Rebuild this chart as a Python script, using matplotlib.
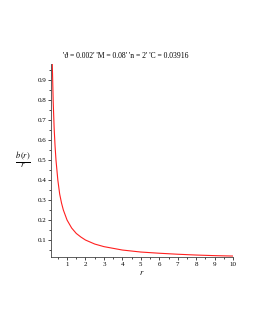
import matplotlib
matplotlib.use("Agg")
import matplotlib.pyplot as plt
from matplotlib.ticker import MultipleLocator

plt.rcParams['font.family'] = ['Liberation Serif', 'DejaVu Serif']
plt.rcParams['mathtext.fontset'] = 'stix'

# b(r)/r gelesen aus dem Bild
r = [0.2, 0.25, 0.3, 0.35, 0.4, 0.5, 0.6, 0.7, 0.8, 1.0, 1.25, 1.5, 1.75,
     2.0, 2.5, 3.0, 4.0, 5.0, 6.0, 7.0, 8.0, 9.0, 10.0]
b_durch_r = [0.98, 0.79, 0.66, 0.57, 0.50, 0.40, 0.33, 0.285, 0.25, 0.20,
             0.16, 0.133, 0.115, 0.10, 0.08, 0.067, 0.05, 0.04, 0.034,
             0.029, 0.025, 0.022, 0.02]
titel = "'\u03d1 = 0.002' 'M = 0.08' 'n = 2' 'C = 0.03916"

fig = plt.figure(figsize=(2.55, 3.3), dpi=100)
ax = fig.add_axes([0.2, 0.222, 0.714, 0.584])
ax.plot(r, b_durch_r, color='#ff2020', linewidth=0.8)

ax.set_xlim(0.13, 10)
ax.set_ylim(0.0165, 0.98)
ax.xaxis.set_major_locator(MultipleLocator(1))
ax.xaxis.set_minor_locator(MultipleLocator(0.5))
ax.yaxis.set_major_locator(MultipleLocator(0.1))
ax.yaxis.set_minor_locator(MultipleLocator(0.05))
ax.set_xticks(range(1, 11))
ax.set_yticks([0.1, 0.2, 0.3, 0.4, 0.5, 0.6, 0.7, 0.8, 0.9])
ax.set_yticklabels(['0.1', '0.2', '0.3', '0.4', '0.5', '0.6', '0.7', '0.8', '0.9'])
ax.tick_params(which='major', direction='out', length=2.5, width=0.5, labelsize=5, pad=1)
ax.tick_params(which='minor', direction='out', length=1.5, width=0.5)

for s in ['top', 'right']:
    ax.spines[s].set_visible(False)
for s in ['left', 'bottom']:
    ax.spines[s].set_linewidth(0.6)
    ax.spines[s].set_color('#444444')

ax.set_title(titel, fontsize=5.5, pad=4, x=0.41)
ax.set_xlabel('$r$', fontsize=6, labelpad=2)
ax.set_ylabel(r'$\frac{b\,(r)}{r}$', fontsize=8.5, rotation=0, labelpad=10, va='center')

fig.savefig('out.png', dpi=100)
